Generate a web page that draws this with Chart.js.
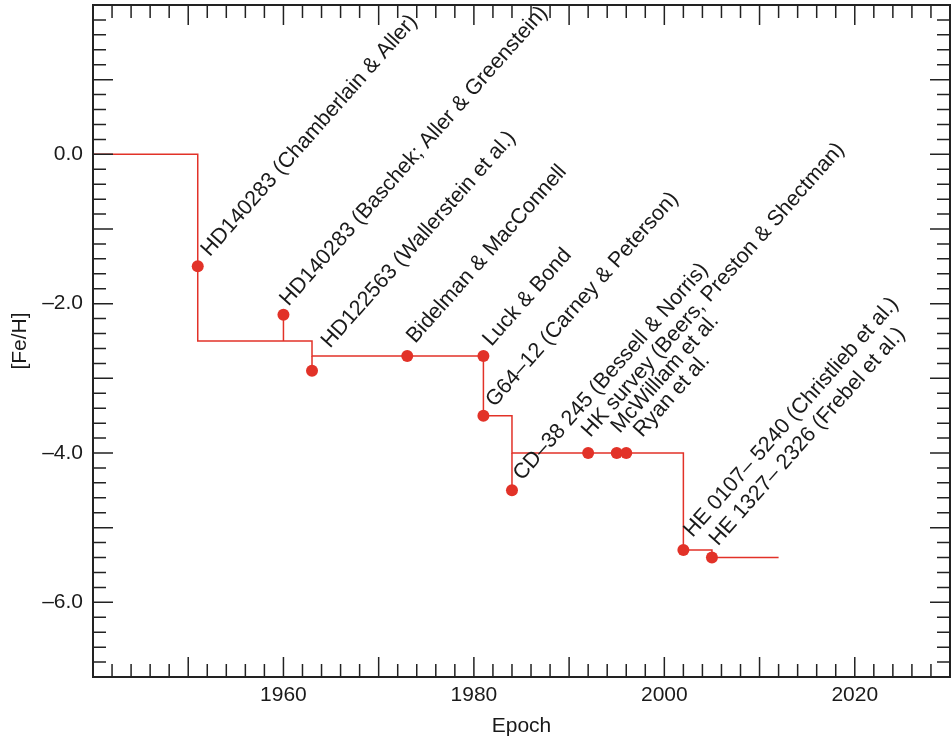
<!DOCTYPE html>
<html>
<head>
<meta charset="utf-8">
<script src="https://cdn.jsdelivr.net/npm/chart.js@4.4.1/dist/chart.umd.min.js"></script>
<style>
  html, body { margin: 0; padding: 0; background: #fff; }
  canvas { display: block; }
</style>
</head>
<body>
<canvas id="myChart" width="952" height="741"></canvas>
<script>
// lowest [Fe/H] known at each epoch (drawn as a step line)
const recordYears = [1940, 1951, 1963, 1981, 1984, 2002, 2005, 2012];
const recordFeH = [0.0, -2.5, -2.7, -3.5, -4.0, -5.3, -5.4, -5.4];

// short vertical ties from the step line out to a star
const stemYears = [1960, 1963, 1984];
const stemFrom = [-2.5, -2.7, -4.0];
const stemTo = [-2.15, -2.9, -4.5];

// stars / papers
const starYears = [1951, 1960, 1963, 1973, 1981, 1981, 1984, 1992, 1995, 1996, 2002, 2005];
const starFeH = [-1.5, -2.15, -2.9, -2.7, -2.7, -3.5, -4.5, -4.0, -4.0, -4.0, -5.3, -5.4];
const starNames = [
  'HD140283 (Chamberlain & Aller)',
  'HD140283 (Baschek; Aller & Greenstein)',
  'HD122563 (Wallerstein et al.)',
  'Bidelman & MacConnell',
  'Luck & Bond',
  'G64\u201312 (Carney & Peterson)',
  'CD\u201338 245 (Bessell & Norris)',
  'HK survey (Beers, Preston & Shectman)',
  'McWilliam et al.',
  'Ryan et al.',
  'HE 0107\u2013 5240 (Christlieb et al.)',
  'HE 1327\u2013 2326 (Frebel et al.)'
];

const xTickLabels = [1960, 1980, 2000, 2020];
const yTickLabels = [-6, -4, -2, 0];

// where each label starts, relative to its dot (px)
const labelNudge = [[12, -9], [5, -8], [18, -22], [8, -12], [8, -9], [11, -8],
  [10, -9], [2, -15], [3, -19], [16, -15], [9, -12], [6, -11]];
const labelAngle = 48.5 * Math.PI / 180;

const red = 'rgb(226, 50, 40)';
const ink = '#1a1a1a';
const family = '"Liberation Sans", Arial, Helvetica, sans-serif';

const datasets = [];
datasets.push({
  data: starYears.map((yr, i) => ({x: yr, y: starFeH[i]})),
  showLine: false,
  pointRadius: 6,
  pointBackgroundColor: red,
  pointBorderWidth: 0
});
datasets.push({
  data: recordYears.map((yr, i) => ({x: yr, y: recordFeH[i]})),
  showLine: true,
  stepped: true,
  borderColor: red,
  borderWidth: 1.5,
  pointRadius: 0
});
stemYears.forEach((yr, i) => {
  datasets.push({
    data: [{x: yr, y: stemFrom[i]}, {x: yr, y: stemTo[i]}],
    showLine: true,
    borderColor: red,
    borderWidth: 1.5,
    pointRadius: 0
  });
});

// inward ticks on all four sides + frame
const frameTicks = {
  id: 'frameTicks',
  afterDraw(chart) {
    const {ctx, chartArea: a, scales: {x, y}} = chart;
    ctx.save();
    ctx.strokeStyle = '#222';
    ctx.lineWidth = 1.5;
    ctx.beginPath();
    for (let yr = 1940; yr <= 2030; yr += 2) {
      const px = x.getPixelForValue(yr);
      const len = yr % 10 === 0 ? 20 : 13;
      ctx.moveTo(px, a.bottom); ctx.lineTo(px, a.bottom - len);
      ctx.moveTo(px, a.top); ctx.lineTo(px, a.top + len);
    }
    for (let i = -35; i <= 10; i++) {
      const py = y.getPixelForValue(i / 5);
      const len = i % 5 === 0 ? 20 : 13;
      ctx.moveTo(a.left, py); ctx.lineTo(a.left + len, py);
      ctx.moveTo(a.right, py); ctx.lineTo(a.right - len, py);
    }
    ctx.stroke();
    ctx.lineWidth = 2;
    ctx.strokeRect(a.left, a.top, a.right - a.left, a.bottom - a.top);
    ctx.restore();
  }
};

// slanted star labels
const starLabels = {
  id: 'starLabels',
  afterDatasetsDraw(chart) {
    const ctx = chart.ctx;
    const meta = chart.getDatasetMeta(0);
    ctx.save();
    ctx.font = '21.5px ' + family;
    ctx.fillStyle = ink;
    ctx.textAlign = 'left';
    ctx.textBaseline = 'alphabetic';
    meta.data.forEach((pt, i) => {
      const [dx, dy] = labelNudge[i];
      ctx.save();
      ctx.translate(pt.x + dx, pt.y + dy);
      ctx.rotate(-labelAngle);
      ctx.fillText(starNames[i], 0, 0);
      ctx.restore();
    });
    ctx.restore();
  }
};

const ctx = document.getElementById('myChart').getContext('2d');
const myChart = new Chart(ctx, {
  type: 'scatter',
  data: { datasets: datasets },
  options: {
    responsive: false,
    animation: false,
    devicePixelRatio: 1,
    layout: { autoPadding: false, padding: { top: 5, right: 2, left: 0, bottom: 0 } },
    plugins: { legend: { display: false }, tooltip: { enabled: false } },
    scales: {
      x: {
        type: 'linear',
        min: 1940,
        max: 2030,
        grid: { display: false, drawTicks: false },
        border: { display: false },
        afterBuildTicks: s => { s.ticks = xTickLabels.map(v => ({value: v})); },
        afterFit: s => { s.height = 64; s.paddingLeft = 0; s.paddingRight = 0; },
        ticks: {
          font: { family: family, size: 21 },
          color: ink,
          padding: 6,
          maxRotation: 0,
          autoSkip: false,
          callback: v => String(v)
        },
        title: {
          display: true,
          text: 'Epoch',
          font: { family: family, size: 21 },
          color: ink,
          padding: { top: 0, bottom: 2 }
        }
      },
      y: {
        type: 'linear',
        min: -7,
        max: 2,
        grid: { display: false, drawTicks: false },
        border: { display: false },
        afterBuildTicks: s => { s.ticks = yTickLabels.map(v => ({value: v})); },
        afterFit: s => { s.width = 93; s.paddingTop = 0; s.paddingBottom = 0; },
        ticks: {
          font: { family: family, size: 21 },
          color: ink,
          padding: 10,
          autoSkip: false,
          callback: v => v === 0 ? '0.0' : '\u2013' + Math.abs(v).toFixed(1)
        },
        title: {
          display: true,
          text: '[Fe/H]',
          font: { family: family, size: 21 },
          color: ink,
          padding: { top: 8, bottom: 0 }
        }
      }
    }
  },
  plugins: [frameTicks, starLabels]
});
</script>
</body>
</html>
